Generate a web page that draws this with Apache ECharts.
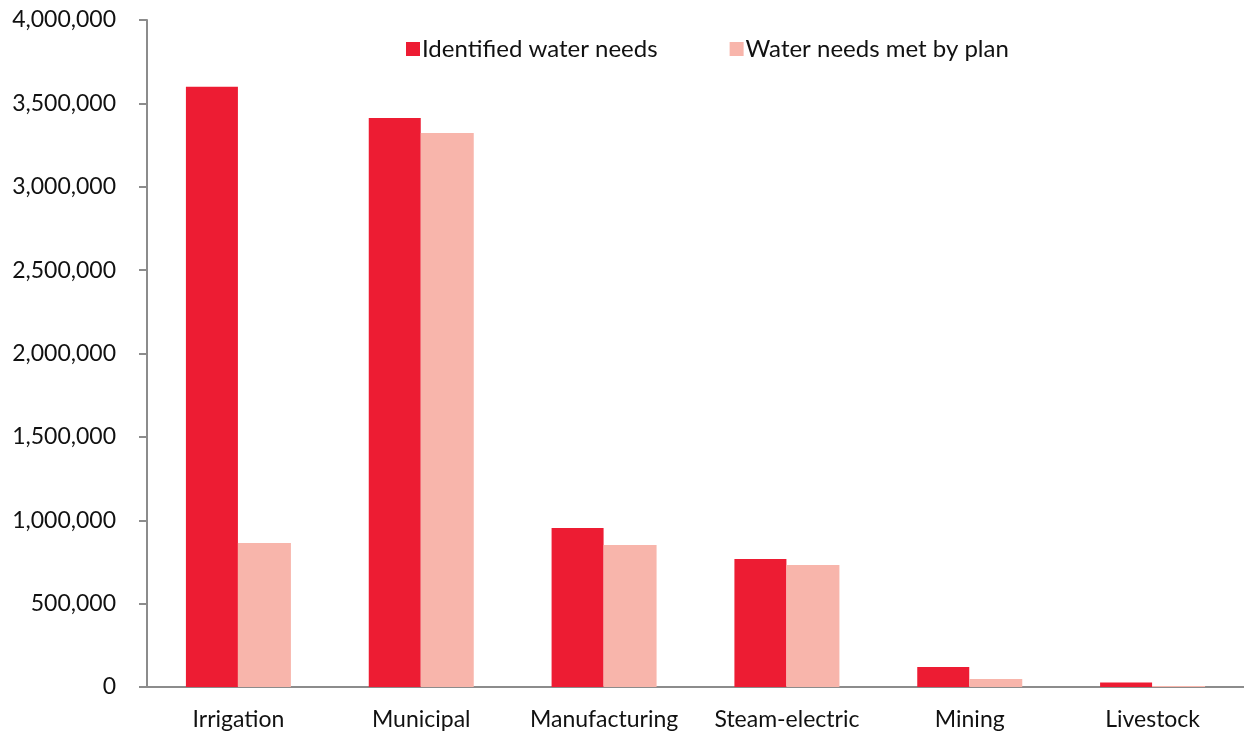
<!DOCTYPE html>
<html>
<head>
<meta charset="utf-8">
<script src="https://cdn.jsdelivr.net/npm/echarts@6/dist/echarts.min.js"></script>
<style>
  html, body { margin: 0; padding: 0; background: #fff; }
  #chart { width: 1244px; height: 738px; }
</style>
</head>
<body>
<div id="chart"></div>
<script>
// categories and values
var categories = ['Irrigation', 'Municipal', 'Manufacturing', 'Steam-electric', 'Mining', 'Livestock'];
var identifiedNeeds = [3600000, 3412000, 953000, 768000, 120000, 27000];
var needsMetByPlan = [864000, 3322000, 852000, 732000, 48000, 6000];
var seriesNames = ['Identified water needs', 'Water needs met by plan'];

var myChart = echarts.init(document.getElementById('chart'));
var fontFam = '"Lato", "Open Sans", sans-serif';

var option = {
  animation: false,
  textStyle: { fontFamily: fontFam },
  legend: {
    left: 401,
    top: 32,
    itemWidth: 14,
    itemHeight: 14,
    itemGap: 72,
    icon: 'rect',
    textStyle: { fontSize: 24, color: '#111', fontFamily: fontFam, padding: [0, 0, 0, -3] },
    data: seriesNames
  },
  grid: {
    left: 147,
    right: 0,
    top: 20,
    bottom: 51,
    containLabel: false
  },
  xAxis: {
    type: 'category',
    data: categories,
    axisLine: { lineStyle: { color: '#8c8c8c', width: 2 } },
    axisTick: { show: false },
    axisLabel: { color: '#111', fontSize: 23, margin: 21, interval: 0, hideOverlap: false }
  },
  yAxis: {
    type: 'value',
    min: 0,
    max: 4000000,
    interval: 500000,
    splitLine: { show: false },
    axisLine: { show: true, lineStyle: { color: '#8c8c8c', width: 2 } },
    axisTick: { show: true, length: 8, lineStyle: { color: '#8c8c8c', width: 2 } },
    axisLabel: {
      color: '#111',
      fontSize: 23,
      margin: 31,
      formatter: function (v) { return v.toLocaleString('en-US'); }
    }
  },
  series: [
    {
      name: seriesNames[0],
      type: 'bar',
      data: identifiedNeeds,
      barWidth: 52,
      barGap: '0%',
      itemStyle: { color: '#ED1C33' }
    },
    {
      name: seriesNames[1],
      type: 'bar',
      data: needsMetByPlan,
      barWidth: 53,
      itemStyle: { color: '#F8B5AB' }
    }
  ]
};

myChart.setOption(option);
</script>
</body>
</html>
